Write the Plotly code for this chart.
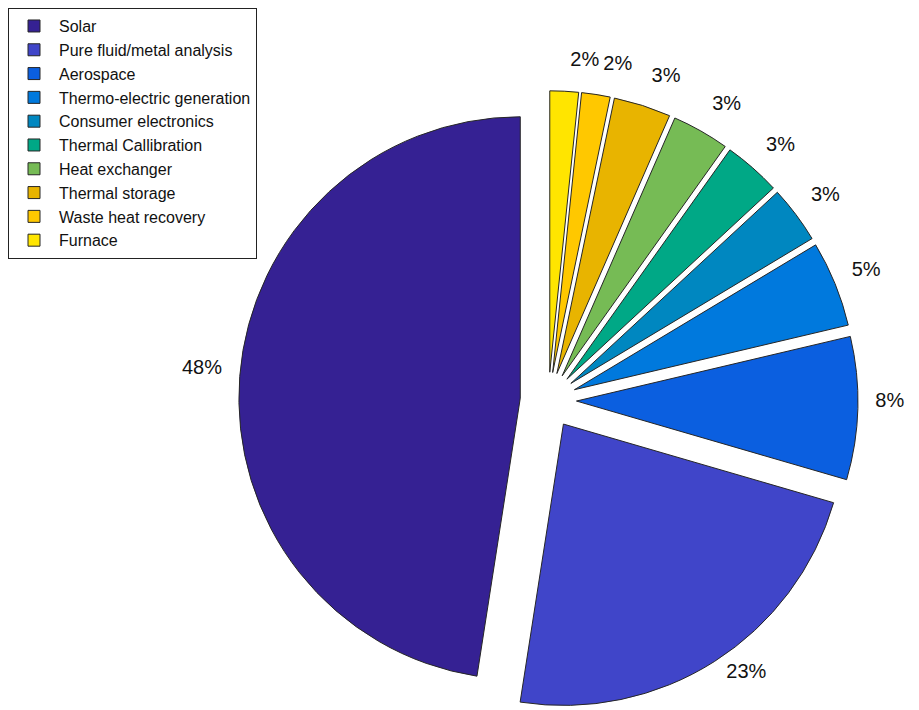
import plotly.graph_objects as go

# application areas and number of studies (percentages shown on the chart)
applications = ["Solar", "Pure fluid/metal analysis", "Aerospace",
                "Thermo-electric generation", "Consumer electronics",
                "Thermal Callibration", "Heat exchanger", "Thermal storage",
                "Waste heat recovery", "Furnace"]
counts = [29, 14, 5, 3, 2, 2, 2, 2, 1, 1]
colours = ["#352193", "#4045C9", "#0B5FE0", "#0079DD", "#0087C0",
           "#00A886", "#76BB55", "#E8B400", "#FFC800", "#FFE500"]

# first slice starts at 12 o'clock and the pie runs counterclockwise
start = -360 * counts[0] / sum(counts)

# coloured, exploded pie (no text)
fig = go.Figure(go.Pie(
    labels=applications,
    values=counts,
    sort=False,
    direction="counterclockwise",
    rotation=start,
    pull=0.1,
    marker=dict(colors=colours, line=dict(color="#262626", width=1)),
    textinfo="none",
    hoverinfo="label+value+percent",
    domain=dict(x=[0.2468, 0.9291], y=[0.0045, 0.8876]),
))

# transparent, larger twin pies carry the percentage labels
# (every third slice each, so neighbouring small labels are not pushed apart)
n_lab = 3
for k in range(n_lab):
    fig.add_trace(go.Pie(
        labels=applications,
        values=counts,
        sort=False,
        direction="counterclockwise",
        rotation=start,
        marker=dict(colors=["rgba(0,0,0,0)"] * len(counts), line=dict(width=0)),
        textposition=["outside" if i % n_lab == k else "none" for i in range(len(counts))],
        texttemplate="%{percent:.0%}",
        textfont=dict(size=20, color="#111111"),
        hoverinfo="skip",
        showlegend=False,
        domain=dict(x=[0.2335, 0.9423], y=[0.0, 0.9175]),
    ))

fig.update_layout(
    width=919, height=710,
    margin=dict(l=0, r=0, t=0, b=0),
    paper_bgcolor="white",
    font=dict(family="Liberation Sans, Arial, sans-serif", size=16, color="#111111"),
    legend=dict(x=0.0, y=1.0056, xanchor="left", yanchor="top",
                bordercolor="#222222", borderwidth=1, bgcolor="white",
                font=dict(size=16), tracegroupgap=0, itemwidth=40),
)

fig.write_html("out.html")
